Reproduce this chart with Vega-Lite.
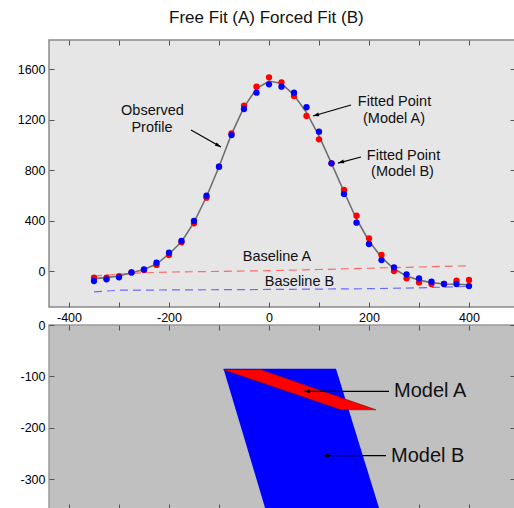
{
  "$schema": "https://vega.github.io/schema/vega-lite/v6.json",
  "padding": {"left": 16, "top": 8, "right": 0, "bottom": 0},
  "background": "#ffffff",
  "title": {"text": "Free Fit (A) Forced Fit (B)", "fontSize": 17, "fontWeight": "normal", "font": "Liberation Sans", "color": "#111111", "anchor": "middle", "offset": 12},
  "config": {
    "font": "Liberation Sans",
    "axis": {"domain": false, "grid": false, "labelFont": "Liberation Sans", "labelFontSize": 12.5, "labelColor": "#000000", "tickColor": "#555555", "tickSize": -5, "labelPadding": 9, "tickWidth": 1},
    "text": {"font": "Liberation Sans"}
  },
  "datasets": {
    "profile": [
      {"x": -350, "obs": -60, "a": -53, "b": -79},
      {"x": -325, "obs": -52, "a": -53, "b": -66},
      {"x": -300, "obs": -40, "a": -40, "b": -50},
      {"x": -275, "obs": -14, "a": -11, "b": -11},
      {"x": -250, "obs": 12, "a": 8, "b": 13},
      {"x": -225, "obs": 55, "a": 48, "b": 66},
      {"x": -200, "obs": 135, "a": 127, "b": 145},
      {"x": -175, "obs": 232, "a": 227, "b": 238},
      {"x": -150, "obs": 385, "a": 378, "b": 396},
      {"x": -125, "obs": 588, "a": 581, "b": 597},
      {"x": -100, "obs": 826, "a": 826, "b": 826},
      {"x": -75, "obs": 1085, "a": 1090, "b": 1077},
      {"x": -50, "obs": 1298, "a": 1310, "b": 1283},
      {"x": -25, "obs": 1445, "a": 1460, "b": 1413},
      {"x": 0, "obs": 1505, "a": 1534, "b": 1479},
      {"x": 25, "obs": 1485, "a": 1494, "b": 1460},
      {"x": 50, "obs": 1395, "a": 1386, "b": 1413},
      {"x": 75, "obs": 1255, "a": 1228, "b": 1297},
      {"x": 100, "obs": 1070, "a": 1043, "b": 1104},
      {"x": 125, "obs": 853, "a": 853, "b": 853},
      {"x": 150, "obs": 628, "a": 642, "b": 610},
      {"x": 175, "obs": 412, "a": 438, "b": 383},
      {"x": 200, "obs": 238, "a": 259, "b": 214},
      {"x": 225, "obs": 108, "a": 127, "b": 87},
      {"x": 250, "obs": 18, "a": 0, "b": 29},
      {"x": 275, "obs": -40, "a": -58, "b": -26},
      {"x": 300, "obs": -72, "a": -90, "b": -58},
      {"x": 325, "obs": -92, "a": -103, "b": -84},
      {"x": 350, "obs": -103, "a": -103, "b": -103},
      {"x": 375, "obs": -105, "a": -77, "b": -103},
      {"x": 400, "obs": -110, "a": -71, "b": -119}
    ],
    "baselines": [
      {"series": "A", "x": -350, "y": -40},
      {"series": "A", "x": -300, "y": -25},
      {"series": "A", "x": -250, "y": -14},
      {"series": "A", "x": -200, "y": -8},
      {"series": "A", "x": -100, "y": -3},
      {"series": "A", "x": 0, "y": 3},
      {"series": "A", "x": 100, "y": 12},
      {"series": "A", "x": 200, "y": 22},
      {"series": "A", "x": 300, "y": 32},
      {"series": "A", "x": 400, "y": 42},
      {"series": "B", "x": -350, "y": -165},
      {"series": "B", "x": -300, "y": -152},
      {"series": "B", "x": 0, "y": -146},
      {"series": "B", "x": 200, "y": -140},
      {"series": "B", "x": 300, "y": -133},
      {"series": "B", "x": 400, "y": -122}
    ],
    "topNotes": [
      {"text": "Observed", "x": -233, "y": 1266},
      {"text": "Profile", "x": -234, "y": 1135},
      {"text": "Fitted Point", "x": 251, "y": 1339},
      {"text": "(Model A)", "x": 250, "y": 1204},
      {"text": "Fitted Point", "x": 269, "y": 911},
      {"text": "(Model B)", "x": 267, "y": 784},
      {"text": "Baseline A", "x": 16, "y": 111},
      {"text": "Baseline B", "x": 61, "y": -87}
    ],
    "topArrows": [
      {"name": "obs", "x": -156, "y": 1117, "x2": -96, "y2": 982},
      {"name": "fa", "x": 164, "y": 1315, "x2": 88, "y2": 1228},
      {"name": "fb", "x": 184, "y": 903, "x2": 138, "y2": 855}
    ],
    "shapes": [
      {"model": "B", "y": -85, "xl": -91, "xr": 134},
      {"model": "B", "y": -362, "xl": -6, "xr": 222},
      {"model": "A", "y": -87, "xl": -91, "xr": -16},
      {"model": "A", "y": -165, "xl": 144, "xr": 214}
    ],
    "bottomNotes": [
      {"text": "Model A", "x": 250, "y": -129},
      {"text": "Model B", "x": 244, "y": -254}
    ],
    "bottomArrows": [
      {"name": "ma", "x": 240, "y": -129, "x2": 70, "y2": -129},
      {"name": "mb", "x": 234, "y": -254, "x2": 108, "y2": -254}
    ]
  },
  "vconcat": [
    {
      "width": 466,
      "height": 267,
      "view": {"fill": "#e6e6e6", "stroke": "#8a8a8a", "strokeWidth": 1.5},
      "resolve": {"axis": {"x": "independent", "y": "independent"}},
      "layer": [
        {
          "data": {"name": "baselines"},
          "mark": {"type": "line", "strokeDash": [8, 5], "strokeWidth": 1.2},
          "encoding": {
            "x": {"field": "x", "type": "quantitative", "scale": {"domain": [-440, 492], "nice": false, "zero": false},
                  "axis": {"orient": "bottom", "values": [-400, -300, -200, -100, 0, 100, 200, 300, 400], "labelExpr": "datum.value % 200 === 0 ? '' + datum.value : ''", "title": null}},
            "y": {"field": "y", "type": "quantitative", "scale": {"domain": [-285, 1830], "nice": false, "zero": false},
                  "axis": {"orient": "left", "values": [0, 400, 800, 1200, 1600], "labelExpr": "'' + datum.value", "title": null}},
            "color": {"field": "series", "type": "nominal", "scale": {"domain": ["A", "B"], "range": ["#ff6a6a", "#6a6aff"]}, "legend": null}
          }
        },
        {
          "data": {"name": "profile"},
          "mark": {"type": "line", "color": "#707070", "strokeWidth": 1.6},
          "encoding": {
            "x": {"field": "x", "type": "quantitative", "axis": null},
            "y": {"field": "obs", "type": "quantitative", "axis": null}
          }
        },
        {
          "data": {"name": "profile"},
          "mark": {"type": "point", "filled": true, "color": "#ff0000", "opacity": 1, "size": 40},
          "encoding": {
            "x": {"field": "x", "type": "quantitative", "axis": null},
            "y": {"field": "a", "type": "quantitative", "axis": null}
          }
        },
        {
          "data": {"name": "profile"},
          "mark": {"type": "point", "filled": true, "color": "#0000ff", "opacity": 1, "size": 40},
          "encoding": {
            "x": {"field": "x", "type": "quantitative", "axis": null},
            "y": {"field": "b", "type": "quantitative", "axis": null}
          }
        },
        {
          "data": {"name": "topArrows"},
          "mark": {"type": "rule", "color": "#000000", "strokeWidth": 1.2},
          "encoding": {
            "x": {"field": "x", "type": "quantitative", "axis": null},
            "y": {"field": "y", "type": "quantitative", "axis": null},
            "x2": {"field": "x2"},
            "y2": {"field": "y2"}
          }
        },
        {
          "data": {"name": "topArrows"},
          "transform": [{"filter": "datum.name === 'obs'"}],
          "mark": {"type": "point", "shape": "M0,0L-2,-0.65L-2,0.65Z", "filled": true, "color": "#000000", "opacity": 1, "size": 36, "angle": 29},
          "encoding": {
            "x": {"field": "x2", "type": "quantitative", "axis": null},
            "y": {"field": "y2", "type": "quantitative", "axis": null}
          }
        },
        {
          "data": {"name": "topArrows"},
          "transform": [{"filter": "datum.name !== 'obs'"}],
          "mark": {"type": "point", "shape": "M0,0L-2,-0.65L-2,0.65Z", "filled": true, "color": "#000000", "opacity": 1, "size": 36, "angle": 164},
          "encoding": {
            "x": {"field": "x2", "type": "quantitative", "axis": null},
            "y": {"field": "y2", "type": "quantitative", "axis": null}
          }
        },
        {
          "data": {"name": "topNotes"},
          "mark": {"type": "text", "fontSize": 14.5, "color": "#111111", "align": "center", "baseline": "middle"},
          "encoding": {
            "x": {"field": "x", "type": "quantitative", "axis": {"orient": "top", "values": [-400, -300, -200, -100, 0, 100, 200, 300, 400], "labels": false, "title": null}},
            "y": {"field": "y", "type": "quantitative", "axis": {"orient": "right", "values": [0, 400, 800, 1200, 1600], "labels": false, "title": null}},
            "text": {"field": "text"}
          }
        }
      ]
    },
    {
      "width": 466,
      "height": 184,
      "view": {"fill": "#c0c0c0", "stroke": "#9a9a9a", "strokeWidth": 1.5},
      "resolve": {"axis": {"x": "independent", "y": "independent"}},
      "layer": [
        {
          "data": {"name": "shapes"},
          "transform": [{"filter": "datum.model === 'B'"}],
          "mark": {"type": "area", "orient": "horizontal", "color": "#0000ff", "opacity": 1, "clip": true},
          "encoding": {
            "y": {"field": "y", "type": "quantitative", "scale": {"domain": [-358, 0], "nice": false, "zero": false},
                  "axis": {"orient": "left", "values": [0, -100, -200, -300], "labelExpr": "'' + datum.value", "title": null}},
            "x": {"field": "xl", "type": "quantitative", "scale": {"domain": [-440, 492], "nice": false, "zero": false},
                  "axis": {"orient": "top", "values": [-400, -300, -200, -100, 0, 100, 200, 300, 400], "labels": false, "title": null}},
            "x2": {"field": "xr"}
          }
        },
        {
          "data": {"name": "shapes"},
          "transform": [{"filter": "datum.model === 'A'"}],
          "mark": {"type": "area", "orient": "horizontal", "color": "#ff0000", "opacity": 1, "stroke": "#7a1010", "strokeWidth": 0.6},
          "encoding": {
            "y": {"field": "y", "type": "quantitative", "axis": null},
            "x": {"field": "xl", "type": "quantitative", "axis": null},
            "x2": {"field": "xr"}
          }
        },
        {
          "data": {"name": "bottomArrows"},
          "mark": {"type": "rule", "color": "#000000", "strokeWidth": 1.2},
          "encoding": {
            "x": {"field": "x", "type": "quantitative", "axis": null},
            "y": {"field": "y", "type": "quantitative", "axis": null},
            "x2": {"field": "x2"},
            "y2": {"field": "y2"}
          }
        },
        {
          "data": {"name": "bottomArrows"},
          "mark": {"type": "point", "shape": "M0,0L-2,-0.65L-2,0.65Z", "filled": true, "color": "#000000", "opacity": 1, "size": 36, "angle": 180},
          "encoding": {
            "x": {"field": "x2", "type": "quantitative", "axis": null},
            "y": {"field": "y2", "type": "quantitative", "axis": null}
          }
        },
        {
          "data": {"name": "bottomNotes"},
          "mark": {"type": "text", "fontSize": 20, "color": "#111111", "align": "left", "baseline": "middle"},
          "encoding": {
            "x": {"field": "x", "type": "quantitative", "axis": {"orient": "bottom", "values": [-400, -300, -200, -100, 0, 100, 200, 300, 400], "labels": false, "title": null}},
            "y": {"field": "y", "type": "quantitative", "axis": {"orient": "right", "values": [0, -100, -200, -300], "labels": false, "title": null}},
            "text": {"field": "text"}
          }
        }
      ]
    }
  ],
  "bounds": "flush",
  "spacing": 18
}
